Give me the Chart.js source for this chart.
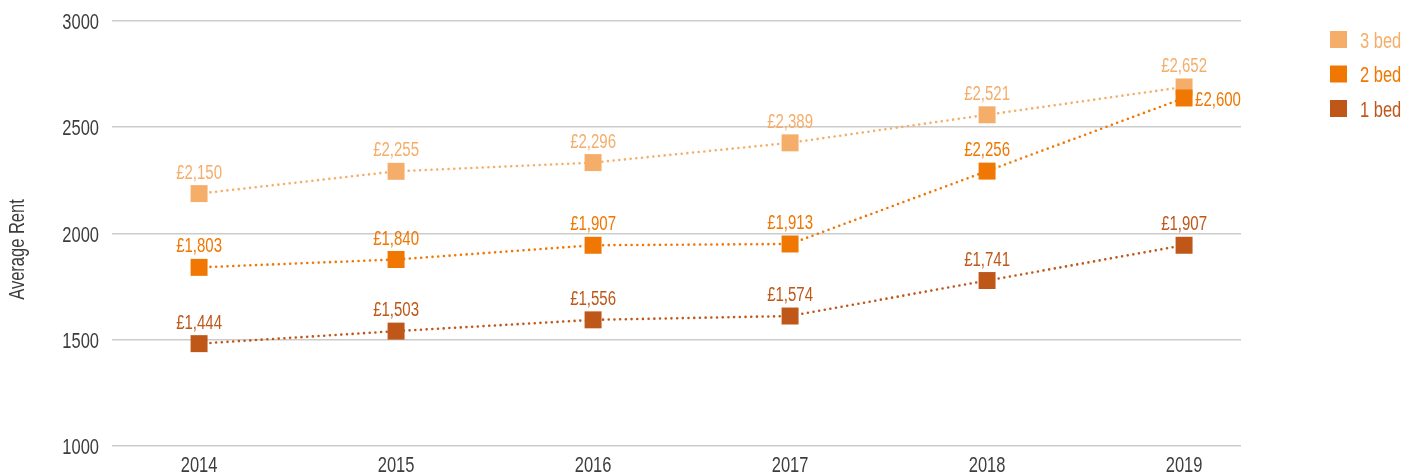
<!DOCTYPE html>
<html>
<head>
<meta charset="utf-8">
<script src="https://cdn.jsdelivr.net/npm/chart.js@4/dist/chart.umd.min.js"></script>
<style>
  html, body { margin: 0; padding: 0; background: #fff; }
  #wrap { width: 1416px; height: 476px; }
</style>
</head>
<body>
<div id="wrap"><canvas id="c" width="1416" height="476"></canvas></div>
<script>
// ---- data ----
const years = [2014, 2015, 2016, 2017, 2018, 2019];
const threeBed = [2150, 2255, 2296, 2389, 2521, 2652];
const twoBed   = [1803, 1840, 1907, 1913, 2256, 2600];
const oneBed   = [1444, 1503, 1556, 1574, 1741, 1907];
const yTicks = [1000, 1500, 2000, 2500, 3000];
const seriesNames = ['1 bed', '2 bed', '3 bed'];
const yTitle = 'Average Rent';

// ---- style ----
const FONT = "'Liberation Sans', Arial, sans-serif";
const SX = 0.75;               // horizontal condensing of text
const TEXT_COL = '#3d3d3d';
const colors = { one: '#BE5718', two: '#EF7702', three: '#F5AD6A' };
const xMin = 2013.558, xMax = 2019.289;

const toPts = vals => years.map((yr, i) => ({ x: yr, y: vals[i] }));

function ds(label, vals, color, labelAlign) {
  return {
    label, data: toPts(vals),
    borderColor: color, backgroundColor: color,
    borderWidth: 2.6, borderDash: [0, 5.7], borderCapStyle: 'round',
    pointStyle: 'rect', pointRadius: 12, pointHoverRadius: 12,
    pointBorderWidth: 0, pointBackgroundColor: color,
    tension: 0, fill: false, labelAlign
  };
}

const datasets = [
  ds(seriesNames[0], oneBed, colors.one, years.map(() => 'top')),
  ds(seriesNames[1], twoBed, colors.two, years.map((y, i) => i === years.length - 1 ? 'right' : 'top')),
  ds(seriesNames[2], threeBed, colors.three, years.map(() => 'top'))
];

function drawText(ctx, s, x, y, align, size, color, rot) {
  ctx.save();
  ctx.translate(x, y);
  if (rot) ctx.rotate(rot);
  ctx.scale(SX, 1);
  ctx.font = `${size}px ${FONT}`;
  ctx.fillStyle = color;
  ctx.textAlign = align;
  ctx.textBaseline = 'alphabetic';
  ctx.fillText(s, 0, 0);
  ctx.restore();
}

const shiftAndLabels = {
  id: 'shiftAndLabels',
  beforeDatasetsDraw(chart) {
    chart.ctx.save();
    chart.ctx.translate(0, -8);
  },
  afterDatasetsDraw(chart) {
    const ctx = chart.ctx;
    chart.data.datasets.forEach((d, di) => {
      const meta = chart.getDatasetMeta(di);
      meta.data.forEach((pt, i) => {
        const txt = '£' + d.data[i].y.toLocaleString('en-GB');
        if (d.labelAlign[i] === 'right') {
          drawText(ctx, txt, pt.x + 11, pt.y + 7.5, 'left', 20, d.borderColor);
        } else {
          drawText(ctx, txt, pt.x, pt.y - 15, 'center', 20, d.borderColor);
        }
      });
    });
    ctx.restore();
  }
};

const axisText = {
  id: 'axisText',
  afterDraw(chart) {
    const ctx = chart.ctx;
    const xs = chart.scales.x, ys = chart.scales.y;
    yTicks.forEach(v => drawText(ctx, String(v), 99, ys.getPixelForValue(v) + 8, 'right', 22, TEXT_COL));
    years.forEach(v => drawText(ctx, String(v), xs.getPixelForValue(v), 472, 'center', 22, TEXT_COL));
    drawText(ctx, yTitle, 24, (ys.top + ys.bottom) / 2 + 16, 'center', 22, TEXT_COL, -Math.PI / 2);
  }
};

const customLegend = {
  id: 'customLegend',
  afterDraw(chart) {
    const ctx = chart.ctx;
    const list = chart.data.datasets.slice().reverse();
    list.forEach((d, i) => {
      const top = 31 + i * 34.5;
      ctx.fillStyle = d.borderColor;
      ctx.fillRect(1330, top, 17, 17);
      drawText(ctx, d.label, 1360, top + 16.5, 'left', 22, d.borderColor);
    });
  }
};

new Chart(document.getElementById('c'), {
  type: 'line',
  data: { datasets },
  options: {
    responsive: false,
    animation: false,
    layout: { padding: { top: 21, right: 175, bottom: 0, left: 0 } },
    plugins: { legend: { display: false }, tooltip: { enabled: false } },
    scales: {
      x: {
        type: 'linear', min: xMin, max: xMax,
        afterBuildTicks(s) { s.ticks = years.map(v => ({ value: v })); },
        afterFit(s) { s.height = 30; },
        grid: { display: false, drawTicks: false },
        border: { display: false },
        ticks: { display: false }
      },
      y: {
        min: 1000, max: 3000,
        afterBuildTicks(s) { s.ticks = yTicks.map(v => ({ value: v })); },
        afterFit(s) { s.width = 112; },
        grid: { color: '#cccccc', lineWidth: 1.6, drawTicks: false },
        border: { display: false },
        ticks: { display: false }
      }
    }
  },
  plugins: [shiftAndLabels, axisText, customLegend]
});
</script>
</body>
</html>
